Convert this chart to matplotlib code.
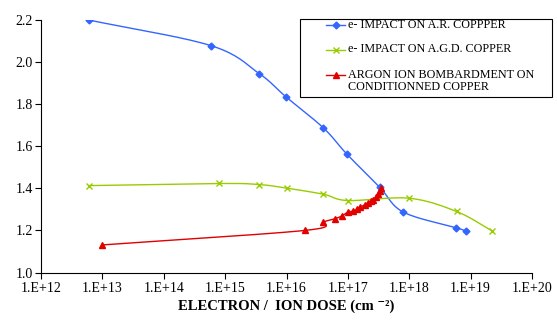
import numpy as np
import matplotlib
matplotlib.use("Agg")
import matplotlib.pyplot as plt
from matplotlib.lines import Line2D
from matplotlib.patches import Rectangle
from matplotlib.ticker import FixedLocator, FuncFormatter

# data
ar_dose = [6.0e12, 5.9e14, 3.6e15, 9.7e15, 4.0e16, 9.6e16, 3.3e17, 8.0e17, 5.8e18, 8.3e18]
ar_yield = [2.20, 2.078, 1.945, 1.836, 1.687, 1.563, 1.405, 1.287, 1.213, 1.198]

agd_dose = [6.0e12, 7.9e14, 3.6e15, 1.0e16, 4.0e16, 1.0e17, 1.0e18, 5.9e18, 2.2e19]
agd_yield = [1.413, 1.423, 1.418, 1.401, 1.372, 1.342, 1.353, 1.290, 1.199]

ion_dose = [1.0e13, 2.0e16, 4.0e16, 6.1e16, 8.0e16, 1.0e17, 1.2e17, 1.4e17, 1.6e17,
            1.9e17, 2.1e17, 2.4e17, 2.6e17, 2.9e17, 3.1e17, 3.3e17, 3.5e17]
ion_yield = [1.131, 1.200, 1.240, 1.255, 1.269, 1.287, 1.291, 1.300, 1.310,
             1.322, 1.331, 1.340, 1.346, 1.358, 1.374, 1.388, 1.400]

labels = ["e- IMPACT ON A.R. COPPPER",
          "e- IMPACT ON A.G.D. COPPER",
          "ARGON ION BOMBARDMENT ON\nCONDITIONNED COPPER"]

W, H = 557, 326
plt.rcParams['font.family'] = ['Liberation Serif', 'DejaVu Serif']


def smooth(xs, ys, n=20):
    """Catmull-Rom curve through the points, in log10(x) space (like Excel smoothing)."""
    lx = np.log10(xs)
    y = np.asarray(ys, dtype=float)
    px = np.concatenate([[2 * lx[0] - lx[1]], lx, [2 * lx[-1] - lx[-2]]])
    py = np.concatenate([[2 * y[0] - y[1]], y, [2 * y[-1] - y[-2]]])
    outx, outy = [], []
    t = np.linspace(0, 1, n)
    for i in range(1, len(px) - 2):
        p0, p1, p2, p3 = px[i - 1], px[i], px[i + 1], px[i + 2]
        q0, q1, q2, q3 = py[i - 1], py[i], py[i + 1], py[i + 2]
        cx = 0.5 * ((2 * p1) + (-p0 + p2) * t + (2 * p0 - 5 * p1 + 4 * p2 - p3) * t ** 2
                    + (-p0 + 3 * p1 - 3 * p2 + p3) * t ** 3)
        cy = 0.5 * ((2 * q1) + (-q0 + q2) * t + (2 * q0 - 5 * q1 + 4 * q2 - q3) * t ** 2
                    + (-q0 + 3 * q1 - 3 * q2 + q3) * t ** 3)
        outx.extend(cx)
        outy.extend(cy)
    return 10 ** np.array(outx), np.array(outy)


fig = plt.figure(figsize=(W / 100, H / 100), dpi=100)
ax = fig.add_axes([41 / W, 1 - 272.5 / H, (532 - 41) / W, (272.5 - 20) / H])

series = [
    (ar_dose, ar_yield, '#3366ff', 'D', 3.5, 'fill'),
    (agd_dose, agd_yield, '#99cc00', 'x', 5, 'line'),
    (ion_dose, ion_yield, '#e00000', '^', 5, 'fill'),
]

for xs, ys, col, mk, ms, kind in series:
    sx, sy = smooth(xs, ys)
    ax.plot(sx, sy, color=col, lw=1.0)
    if kind == 'fill':
        ax.plot(xs, ys, ls='none', marker=mk, ms=ms, color=col, mec=col)
    else:
        ax.plot(xs, ys, ls='none', marker=mk, ms=ms, color=col, mew=1.0)

ax.set_xscale('log')
ax.set_xlim(1e12, 1e20)
ax.set_ylim(1.0, 2.2)
ax.xaxis.set_major_locator(FixedLocator([10.0 ** k for k in range(12, 21)]))
ax.xaxis.set_minor_locator(FixedLocator([]))
ax.xaxis.set_major_formatter(FuncFormatter(lambda v, p: "1.E+%d" % round(np.log10(v))))
ax.set_yticks(np.arange(1.0, 2.21, 0.2))
ax.yaxis.set_major_formatter(FuncFormatter(lambda v, p: "%.1f" % v))

for s in ['top', 'right']:
    ax.spines[s].set_visible(False)
for s in ['left', 'bottom']:
    ax.spines[s].set_linewidth(0.8)
ax.tick_params(direction='out', length=4, width=0.8, labelsize=10, pad=2)
ax.tick_params(axis='x', pad=3)

ax.set_xlabel("ELECTRON /  ION DOSE (cm \u207b\u00b2)", fontsize=10.5,
              fontweight='bold', labelpad=3)

# legend drawn by hand, Excel style
def fx(px):
    return px / W

def fy(py):
    return 1 - py / H

fig.patches.append(Rectangle((fx(300), fy(97)), fx(552) - fx(300), fy(19) - fy(97),
                             transform=fig.transFigure, fill=False,
                             edgecolor='black', lw=0.8))
rows = [25, 50, 75]
for (xs, ys, col, mk, ms, kind), lab, ry in zip(series, labels, rows):
    fig.add_artist(Line2D([fx(326), fx(345)], [fy(ry), fy(ry)], color=col, lw=1.0,
                          transform=fig.transFigure))
    if kind == 'fill':
        fig.add_artist(Line2D([fx(335.5)], [fy(ry)], ls='none', marker=mk, ms=ms,
                              color=col, transform=fig.transFigure))
    else:
        fig.add_artist(Line2D([fx(335.5)], [fy(ry)], ls='none', marker=mk, ms=ms,
                              color=col, mew=1.0, transform=fig.transFigure))
    fig.text(fx(348), fy(ry - 6.5), lab, fontsize=8.7, va='top', ha='left',
             linespacing=1.0)

fig.savefig("out.png", dpi=100)
